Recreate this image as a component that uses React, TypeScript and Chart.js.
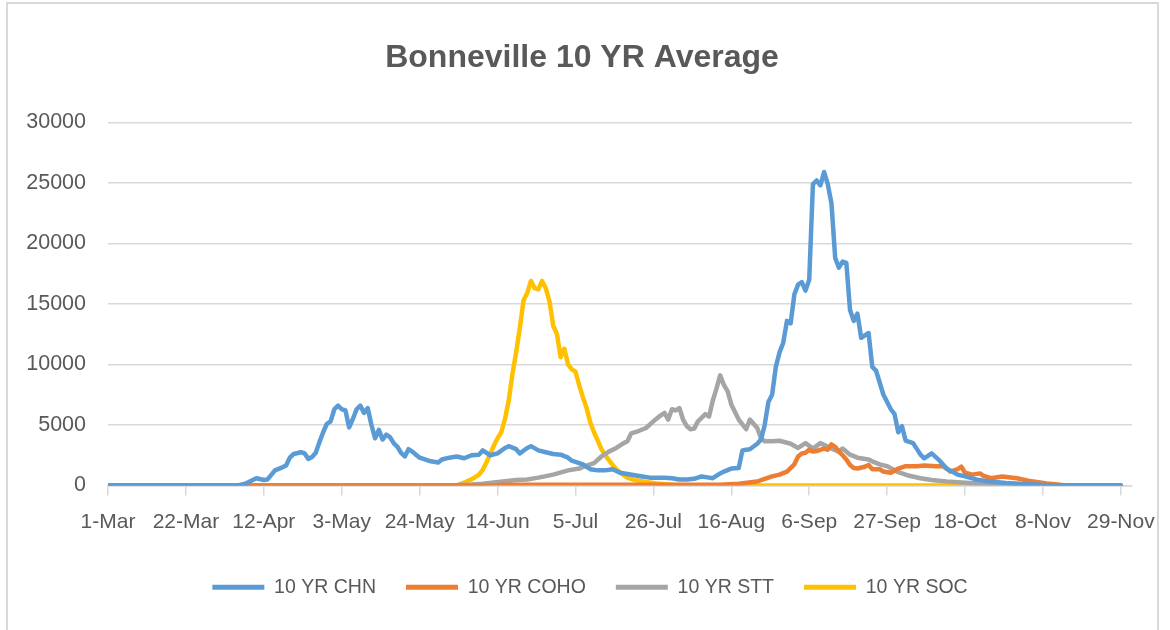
import React, { useEffect, useRef } from "react";
import { Chart, registerables } from "chart.js";

Chart.register(...registerables);

// x positions are day offsets from 1-Mar
const tickDays = [0, 21, 42, 63, 84, 105, 126, 147, 168, 189, 210, 231, 252, 273];
const tickLabels = ["1-Mar", "22-Mar", "12-Apr", "3-May", "24-May", "14-Jun", "5-Jul", "26-Jul", "16-Aug", "6-Sep", "27-Sep", "18-Oct", "8-Nov", "29-Nov"];

const seriesNames = ["10 YR CHN", "10 YR COHO", "10 YR STT", "10 YR SOC"];

const chnDays = [0, 35, 37, 39, 40, 42, 43, 45, 47, 48, 49, 50, 52, 53, 54, 55, 56, 57, 58, 59, 60, 61, 62, 63, 64, 65, 66, 67, 68, 69, 70, 71, 72, 73, 74, 75, 76, 77, 78, 79, 80, 81, 82, 83, 84, 85, 87, 89, 90, 92, 94, 96, 98, 100, 101, 103, 105, 107, 108, 110, 111, 113, 114, 116, 118, 120, 122, 124, 125, 127, 128, 130, 132, 134, 136, 138, 140, 142, 144, 146, 148, 150, 152, 154, 156, 158, 160, 162, 163, 165, 166, 168, 170, 171, 172, 173, 175, 176, 177, 178, 179, 180, 181, 182, 183, 184, 185, 186, 187, 188, 189, 190, 191, 192, 193, 194, 195, 196, 197, 198, 199, 200, 201, 202, 203, 205, 206, 207, 209, 211, 212, 213, 214, 215, 217, 219, 220, 222, 224, 226, 229, 231, 234, 237, 242, 250, 255, 273];
const chnFish = [0, 0, 150, 450, 600, 450, 500, 1250, 1500, 1650, 2300, 2600, 2750, 2650, 2200, 2350, 2700, 3600, 4400, 5100, 5300, 6300, 6600, 6300, 6200, 4800, 5500, 6300, 6600, 6000, 6400, 5000, 3900, 4600, 3800, 4200, 4000, 3500, 3200, 2700, 2400, 3000, 2800, 2550, 2300, 2200, 2000, 1900, 2150, 2300, 2400, 2250, 2500, 2550, 2900, 2500, 2650, 3100, 3250, 3000, 2650, 3100, 3250, 2900, 2750, 2600, 2550, 2300, 2050, 1850, 1750, 1350, 1250, 1250, 1350, 1050, 950, 850, 750, 650, 650, 650, 600, 500, 500, 550, 750, 650, 600, 1000, 1150, 1400, 1450, 2900, 2950, 3000, 3450, 3800, 5000, 6900, 7500, 9800, 11000, 11800, 13600, 13400, 15800, 16600, 16800, 16100, 17000, 24900, 25200, 24800, 25900, 24900, 23300, 18800, 18000, 18500, 18400, 14500, 13600, 14200, 12200, 12600, 9800, 9500, 7500, 6300, 5900, 4400, 4900, 3700, 3500, 2550, 2250, 2650, 2100, 1400, 900, 750, 500, 350, 200, 80, 0, 0];

const cohoDays = [0, 105, 106, 140, 165, 170, 175, 177, 179, 181, 183, 185, 186, 187, 188, 189, 190, 191, 193, 194, 195, 196, 197, 198, 199, 200, 201, 202, 204, 205, 206, 208, 209, 211, 213, 215, 218, 220, 223, 225, 226, 227, 229, 230, 231, 233, 235, 236, 238, 241, 245, 248, 253, 256, 258, 273];
const cohoFish = [0, 0, 60, 60, 60, 150, 330, 550, 750, 900, 1150, 1750, 2400, 2650, 2700, 2950, 2800, 2850, 3050, 2950, 3400, 3200, 2800, 2500, 2150, 1700, 1450, 1400, 1550, 1700, 1350, 1350, 1150, 1050, 1400, 1600, 1600, 1650, 1600, 1600, 1400, 1150, 1350, 1550, 1050, 900, 1000, 800, 600, 750, 600, 400, 170, 80, 0, 0];

const sttDays = [0, 93, 95, 98, 101, 104, 107, 110, 113, 116, 120, 124, 127, 129, 131, 133, 135, 137, 139, 140, 141, 143, 145, 147, 149, 150, 151, 152, 153, 154, 155, 156, 157, 158, 159, 161, 162, 163, 164, 165, 166, 167, 168, 170, 172, 173, 174, 175, 176, 177, 179, 181, 184, 186, 188, 190, 192, 195, 197, 198, 200, 202, 205, 206, 208, 210, 213, 216, 219, 222, 226, 230, 235, 240, 245, 273];
const sttFish = [0, 0, 60, 80, 150, 250, 350, 450, 500, 650, 900, 1250, 1400, 1650, 1850, 2400, 2800, 3100, 3500, 3650, 4300, 4500, 4750, 5300, 5800, 6000, 5450, 6300, 6200, 6400, 5450, 4900, 4650, 4700, 5300, 5900, 5700, 7000, 8000, 9100, 8300, 7800, 6700, 5450, 4650, 5450, 5100, 4750, 3900, 3650, 3650, 3700, 3450, 3100, 3500, 3050, 3500, 3050, 2800, 3050, 2550, 2300, 2150, 2000, 1750, 1600, 1100, 800, 600, 450, 330, 250, 170, 80, 0, 0];

const socDays = [0, 94, 96, 98, 100, 101, 102, 103, 104, 105, 106, 107, 108, 109, 110, 111, 112, 113, 114, 115, 116, 117, 118, 119, 120, 121, 122, 123, 124, 125, 126, 127, 128, 129, 130, 131, 132, 133, 134, 135, 136, 137, 138, 139, 140, 142, 145, 148, 152, 155, 273];
const socFish = [0, 0, 250, 500, 900, 1300, 1900, 2600, 3300, 3900, 4400, 5500, 7000, 9200, 11000, 13000, 15300, 15900, 16900, 16300, 16200, 16900, 16300, 15200, 13200, 12500, 10600, 11300, 10000, 9600, 9400, 8300, 7300, 6400, 5200, 4400, 3700, 3000, 2500, 2100, 1700, 1350, 1100, 850, 650, 450, 300, 170, 60, 0, 0];

const colors = ["#5B9BD5", "#ED7D31", "#A5A5A5", "#FFC000"];

const FONT = "'Liberation Sans', Arial, sans-serif";
const TEXT = "#595959";
const GRID = "#d9d9d9";

function pts(days: number[], vals: number[]) {
  return days.map((d, i) => ({ x: d, y: vals[i] }));
}

const shiftPlugin = {
  id: "shiftBlocks",
  afterLayout(chart: any) {
    const lg = chart.legend;
    if (lg) {
      lg.left += 24;
      lg.right += 24;
    }
    const tb = chart.titleBlock;
    if (tb) {
      tb.left += 16;
      tb.right += 16;
    }
  },
};

export default function App() {
  const ref = useRef<HTMLCanvasElement | null>(null);

  useEffect(() => {
    if (!ref.current) return;
    const sets = [
      pts(chnDays, chnFish),
      pts(cohoDays, cohoFish),
      pts(sttDays, sttFish),
      pts(socDays, socFish),
    ];
    const chart = new Chart(ref.current, {
      type: "line",
      data: {
        datasets: sets.map((data, i) => ({
          label: seriesNames[i],
          data,
          borderColor: colors[i],
          backgroundColor: colors[i],
          borderWidth: 4.5,
          pointRadius: 0,
          tension: 0,
          fill: false,
          borderJoinStyle: "round" as const,
          borderCapStyle: "round" as const,
        })),
      },
      plugins: [shiftPlugin],
      options: {
        responsive: false,
        animation: false,
        layout: { padding: { left: 0, right: 38, top: 0, bottom: 23 } },
        plugins: {
          tooltip: { enabled: false },
          title: {
            display: true,
            text: "Bonneville 10 YR Average",
            color: TEXT,
            font: { family: FONT, size: 32, weight: "bold" },
            padding: { top: 39, bottom: 45 },
          },
          legend: {
            position: "bottom",
            labels: {
              color: TEXT,
              font: { family: FONT, size: 19.5 },
              boxWidth: 52,
              boxHeight: 5,
              padding: 30,
              generateLabels: (c: any) =>
                c.data.datasets.map((ds: any, i: number) => ({
                  text: ds.label,
                  fillStyle: ds.borderColor,
                  strokeStyle: ds.borderColor,
                  lineWidth: 0,
                  hidden: false,
                  datasetIndex: i,
                  fontColor: TEXT,
                })),
            },
          },
        },
        scales: {
          x: {
            type: "linear",
            min: 0,
            max: 276,
            afterBuildTicks: (s: any) => {
              s.ticks = tickDays.map((v) => ({ value: v }));
            },
            afterFit: (s: any) => {
              s.height = 62;
            },
            ticks: {
              autoSkip: false,
              maxRotation: 0,
              minRotation: 0,
              padding: 14,
              color: TEXT,
              font: { family: FONT, size: 21 },
              callback: (v: any) => {
                const i = tickDays.indexOf(Number(v));
                return i >= 0 ? tickLabels[i] : "";
              },
            },
            grid: {
              drawOnChartArea: false,
              drawTicks: true,
              tickLength: 10,
              color: GRID,
              lineWidth: 1.5,
            },
            border: { color: GRID, width: 1.5 },
          },
          y: {
            min: 0,
            max: 30000,
            afterFit: (s: any) => {
              s.width = 108;
            },
            ticks: {
              stepSize: 5000,
              padding: 22,
              color: TEXT,
              font: { family: FONT, size: 21.5 },
              callback: (v: any) => String(v),
            },
            grid: { color: GRID, lineWidth: 1.5, drawTicks: false },
            border: { display: false },
          },
        },
      },
    });
    return () => chart.destroy();
  }, []);

  return (
    <div style={{ position: "fixed", left: 0, top: 0, width: 1170, height: 630, background: "#fff", overflow: "hidden" }}>
      <div
        style={{
          position: "absolute",
          left: 6,
          top: 2,
          width: 1153,
          height: 660,
          border: "2px solid #d9d9d9",
          boxSizing: "border-box",
        }}
      />
      <canvas ref={ref} width={1170} height={630} style={{ position: "absolute", left: 0, top: 0 }} />
    </div>
  );
}
